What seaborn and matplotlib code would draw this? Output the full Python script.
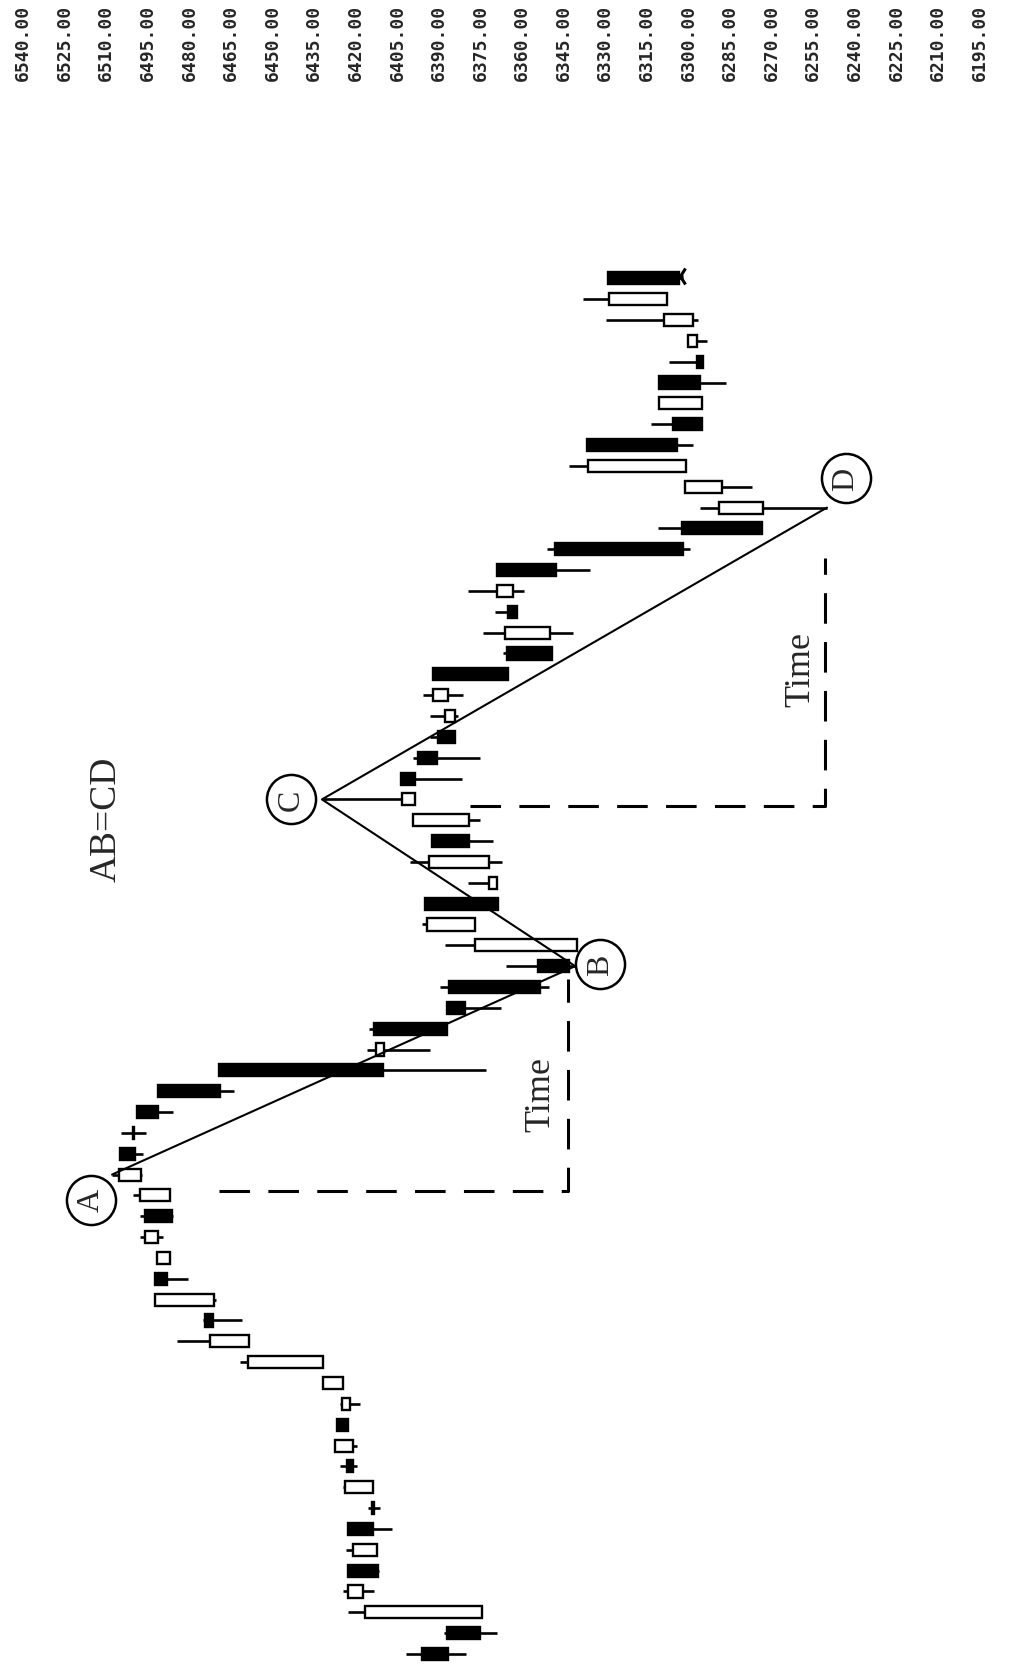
import numpy as np
import pandas as pd
import matplotlib.pyplot as plt
import matplotlib.transforms as mtransforms
import seaborn as sns

# daily bars, oldest first (chart is turned on its side: time runs upward)
opens = [6396.1, 6387.1, 6374.5, 6417.4, 6422.8, 6412.4, 6422.8, 6414.2, 6413.8, 6423.2,
         6421.0, 6426.8, 6422.1, 6424.6, 6431.8, 6458.5, 6474.4, 6471.1, 6492.4, 6487.0,
         6491.3, 6496.0, 6487.0, 6497.5, 6505.0, 6500.3, 6498.9, 6491.3, 6469.3, 6409.8,
         6413.4, 6387.1, 6386.4, 6354.3, 6340.2, 6377.0, 6395.0, 6369.1, 6371.9, 6392.5,
         6379.1, 6398.6, 6403.7, 6397.6, 6390.4, 6384.2, 6386.7, 6392.1, 6365.5, 6349.9,
         6365.1, 6363.3, 6369.1, 6348.2, 6302.4, 6273.2, 6287.9, 6300.9, 6336.6, 6305.6,
         6295.2, 6310.7, 6297.0, 6297.0, 6298.4, 6307.8, 6329.0]
highs = [6401.9, 6388.2, 6422.8, 6424.6, 6422.8, 6423.5, 6422.8, 6415.6, 6424.6, 6425.7,
         6427.5, 6426.8, 6425.7, 6431.8, 6461.7, 6484.5, 6475.1, 6492.4, 6492.4, 6491.7,
         6497.8, 6497.8, 6500.3, 6507.9, 6505.0, 6504.7, 6498.9, 6491.3, 6469.3, 6416.0,
         6415.2, 6387.1, 6389.6, 6365.8, 6387.8, 6396.1, 6395.0, 6379.5, 6400.4, 6392.5,
         6399.4, 6432.2, 6403.7, 6399.4, 6393.2, 6393.2, 6395.8, 6392.1, 6366.9, 6374.1,
         6369.8, 6379.5, 6369.1, 6351.0, 6311.0, 6295.9, 6301.3, 6343.1, 6336.6, 6313.5,
         6310.7, 6310.7, 6307.1, 6300.2, 6329.8, 6338.1, 6329.0]
lows = [6380.3, 6369.1, 6374.5, 6413.4, 6411.6, 6412.4, 6406.9, 6411.3, 6413.8, 6419.6,
        6419.6, 6422.8, 6418.5, 6424.6, 6431.8, 6458.5, 6461.0, 6470.4, 6480.5, 6487.0,
        6489.5, 6485.9, 6487.0, 6497.1, 6496.7, 6495.6, 6485.9, 6463.9, 6373.0, 6393.2,
        6387.1, 6367.6, 6350.3, 6340.9, 6340.2, 6377.0, 6368.7, 6369.1, 6367.3, 6370.5,
        6375.2, 6398.6, 6381.7, 6375.2, 6384.2, 6383.1, 6381.3, 6365.1, 6349.2, 6341.7,
        6361.9, 6359.3, 6335.5, 6299.5, 6273.5, 6250.1, 6277.1, 6300.9, 6298.4, 6295.2,
        6295.2, 6286.5, 6294.8, 6293.3, 6296.6, 6307.8, 6302.0]
closes = [6386.7, 6375.2, 6416.7, 6422.8, 6412.0, 6421.0, 6413.8, 6413.6, 6423.9, 6421.0,
          6427.5, 6422.8, 6425.0, 6431.8, 6458.9, 6472.6, 6471.5, 6492.4, 6488.1, 6491.7,
          6496.0, 6486.3, 6497.8, 6505.4, 6499.6, 6499.9, 6491.3, 6469.0, 6410.2, 6412.7,
          6387.1, 6380.6, 6353.6, 6343.1, 6377.0, 6394.3, 6368.7, 6371.9, 6393.6, 6379.1,
          6399.4, 6403.3, 6398.6, 6390.7, 6384.2, 6387.8, 6392.1, 6365.1, 6349.2, 6366.2,
          6361.9, 6369.1, 6347.8, 6302.0, 6273.5, 6289.0, 6301.3, 6336.3, 6304.2, 6295.2,
          6310.7, 6295.9, 6294.8, 6300.2, 6308.9, 6328.7, 6303.4]

price_levels = list(range(6540, 6194, -15))
price_labels = [f"{p:.2f}" for p in price_levels]

# last-price marker after the final bar
last_mark_bar = 66.1
last_mark_price = 6303.0

# AB=CD swing bars and where the circled letters sit
swing_names = ["A", "B", "C", "D"]
swing_bars = [23, 33, 41, 55]
swing_is_high = [True, False, True, False]
badge_bars = [21.8, 33.1, 41.0, 56.4]
badge_prices = [6515.5, 6331.9, 6443.4, 6243.2]

# "Time" brackets: (start bar, end bar, start price, end price)
time_ab = (22.2, 32.4, 6469.3, 6343.5)
time_cd = (40.7, 52.6, 6378.8, 6250.8)
time_text_bars = [26.9, 47.3]
time_text_prices = [6353.2, 6259.4]

sns.set_theme(style="white")
plt.rcParams["font.family"] = ["Liberation Serif", "DejaVu Serif"]

df = pd.DataFrame({"bar": np.arange(len(opens)), "open": opens, "high": highs,
                   "low": lows, "close": closes})
df["lo_body"] = df[["open", "close"]].min(axis=1)
df["hi_body"] = df[["open", "close"]].max(axis=1)
df["up"] = df["close"] >= df["open"]

fig = plt.figure(figsize=(10.13, 16.65), dpi=100)
ax = fig.add_axes([0, 0, 1, 1])
ax.set_xlim(6548.3, 6183.0)
ax.set_ylim(-0.48, 79.4)
ax.axis("off")

# wicks then bodies
ax.hlines(df["bar"], df["low"], df["high"], color="black", lw=1.9, zorder=2)
ax.barh(df["bar"], df["hi_body"] - df["lo_body"], left=df["lo_body"], height=0.58,
        color=np.where(df["up"], "white", "black"), edgecolor="black", linewidth=1.7,
        zorder=3)
ax.hlines([last_mark_bar], [df["low"].iloc[-1]], [last_mark_price], color="black", lw=1.9)
ax.plot([last_mark_price], [last_mark_bar], marker="3", ms=15, mew=2.2, color="black")

# the AB=CD zigzag
swing_prices = [df.loc[b, "high"] if h else df.loc[b, "low"]
                for b, h in zip(swing_bars, swing_is_high)]
zig = pd.DataFrame({"price": swing_prices, "bar": swing_bars})
sns.lineplot(data=zig, x="price", y="bar", sort=False, color="black", lw=1.5,
             ax=ax, zorder=4)

for b0, b1, p0, p1 in [time_ab, time_cd]:
    ax.plot([p0, p1, p1], [b0, b0, b1], color="black", lw=2.2,
            linestyle=(0, (10, 6)), zorder=2)

for name, b, p in zip(swing_names, badge_bars, badge_prices):
    ax.scatter([p], [b], s=1250, facecolor="white", edgecolor="black",
               linewidth=1.8, zorder=5)
    ax.text(p, b, name, rotation=90, ha="center", va="center", fontsize=23,
            zorder=6)

for b, p in zip(time_text_bars, time_text_prices):
    ax.text(p, b, "Time", rotation=90, ha="center", va="center", fontsize=26)

ax.text(6510.1, 40.1, "AB=CD", rotation=90, ha="center", va="center", fontsize=27)

top = mtransforms.blended_transform_factory(ax.transData, ax.transAxes)
for p, lab in zip(price_levels, price_labels):
    ax.text(p, 0.997, lab, transform=top, rotation=90, ha="center", va="top",
            fontsize=13, family="DejaVu Sans Mono", fontweight="bold")

fig.savefig("out.png", dpi=100)
